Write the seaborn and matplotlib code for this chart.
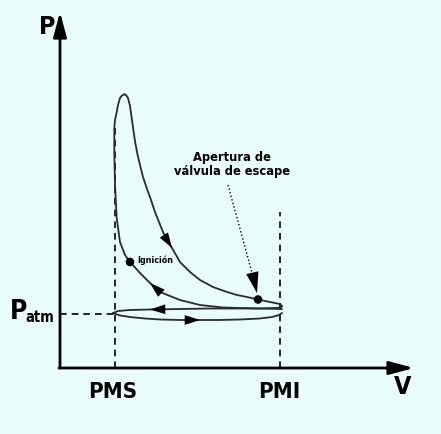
import numpy as np
import pandas as pd
import seaborn as sns
import matplotlib.pyplot as plt

v_adm = [53, 60, 70, 85, 100, 120, 140, 160, 180, 200, 212, 219, 222]
p_adm = [55, 52.5, 51, 49.5, 48.5, 48, 48, 48, 48.5, 49.5, 51, 53, 55]

v_comp = [222, 200, 180, 163, 140, 120, 100, 90, 80, 70, 65, 60, 56.7, 55, 54.3,
          54.3, 55, 56.7, 58, 60, 62, 64.3]
p_comp = [59, 59.5, 60, 60.5, 63, 68, 76, 85, 95, 106, 113, 126, 150, 183, 216,
          240, 248, 256, 263, 270, 272.5, 273.7]

v_exp = [64.3, 66, 68, 70, 71.7, 73.5, 75.3, 77.5, 80, 83, 86.7, 91, 95, 99, 103, 107,
         112, 120, 130, 140, 153, 167, 177, 187, 198, 210, 220, 222]
p_exp = [273.7, 273, 270, 262, 250, 237, 225, 213.5, 203, 191, 180, 168, 156, 146, 136,
         128, 120, 106, 96, 88, 81, 76, 73, 71, 68.5, 66, 64, 62]

v_esc = [222, 221, 215, 200, 180, 150, 120, 90, 70, 58, 53]
p_esc = [62, 60.5, 60, 59.5, 59.5, 59.5, 59, 58.5, 58, 57, 55]

v_pms, v_pmi, p_atm = 55, 220, 54
v_ignicion, p_ignicion = 70, 106
v_apertura, p_apertura = 198, 68.5

bg = '#e8fcfc'
ink = '#2b2b2b'

sns.set_style('white')
fig = plt.figure(figsize=(4.41, 4.34), dpi=100, facecolor=bg)
ax = fig.add_axes([0, 0, 1, 1])
ax.set_facecolor(bg)
ax.set_xlim(-60, 381)
ax.set_ylim(-66, 368)
ax.axis('off')


def head(xs, ys, k, hl=1.1, hw=0.35):
    # punta de flecha sobre la curva, en el punto k, en el sentido del recorrido
    ax.annotate('', xy=(xs[k], ys[k]), xytext=(xs[k - 1], ys[k - 1]),
                arrowprops=dict(arrowstyle=f'-|>,head_length={hl},head_width={hw}',
                                color='black', lw=0, shrinkA=0, shrinkB=0,
                                mutation_scale=10))


# ejes con flecha
ax.annotate('', xy=(0, 356), xytext=(0, 0),
            arrowprops=dict(arrowstyle='-|>,head_length=1.5,head_width=0.4',
                            color='black', lw=2, shrinkA=0, shrinkB=0, mutation_scale=10))
ax.annotate('', xy=(354, 0), xytext=(-1, 0),
            arrowprops=dict(arrowstyle='-|>,head_length=1.5,head_width=0.4',
                            color='black', lw=2, shrinkA=0, shrinkB=0, mutation_scale=10))

# lineas de referencia
ax.plot([v_pms, v_pms], [0, 245], ls=(0, (4, 3)), color='black', lw=1.2)
ax.plot([v_pmi, v_pmi], [0, 156], ls=(0, (4, 3)), color='black', lw=1.2)
ax.plot([0, v_pms], [p_atm, p_atm], ls=(0, (4, 3)), color='black', lw=1.2)

# curvas del ciclo
for vs, ps in [(v_adm, p_adm), (v_comp, p_comp), (v_exp, p_exp), (v_esc, p_esc)]:
    sns.lineplot(x=vs, y=ps, sort=False, estimator=None, color=ink, lw=1.3, ax=ax)

head(v_exp, p_exp, v_exp.index(112))
head(v_comp, p_comp, v_comp.index(90))
head(v_esc, p_esc, v_esc.index(90))
head(v_adm, p_adm, v_adm.index(140))

sns.scatterplot(x=[v_ignicion, v_apertura], y=[p_ignicion, p_apertura],
                color='black', s=38, edgecolor='none', ax=ax, zorder=5)

# anotacion apertura de escape (linea punteada)
ax.plot([168, 194], [183, 88], ls=':', color='black', lw=1)
ax.annotate('', xy=(197, 75), xytext=(194, 88),
            arrowprops=dict(arrowstyle='-|>,head_length=1.5,head_width=0.45',
                            color='black', lw=0, shrinkA=0, shrinkB=0, mutation_scale=10))
ax.text(172, 204, 'Apertura de\nválvula de escape', ha='center', va='center',
        fontsize=8.3, fontweight='heavy', linespacing=1.1, color='black')
ax.text(77, 108, 'Ignición', ha='left', va='center', fontsize=5.8,
        fontweight='bold', color='black')

# rotulos
lab = dict(fontweight='bold', family='DejaVu Sans', fontstretch='condensed', color='black')
ax.text(-13, 341, 'P', ha='center', va='center', fontsize=18, **lab)
ax.text(343, -19, 'V', ha='center', va='center', fontsize=18, **lab)
ax.text(53, -24, 'PMS', ha='center', va='center', fontsize=16, **lab)
ax.text(219, -24, 'PMI', ha='center', va='center', fontsize=16, **lab)
ax.text(-50, 56, 'P', ha='left', va='center', fontsize=19, **lab)
ax.text(-35, 51, 'atm', ha='left', va='center', fontsize=10.5, **lab)

fig.savefig('out.png', dpi=100, facecolor=bg)
